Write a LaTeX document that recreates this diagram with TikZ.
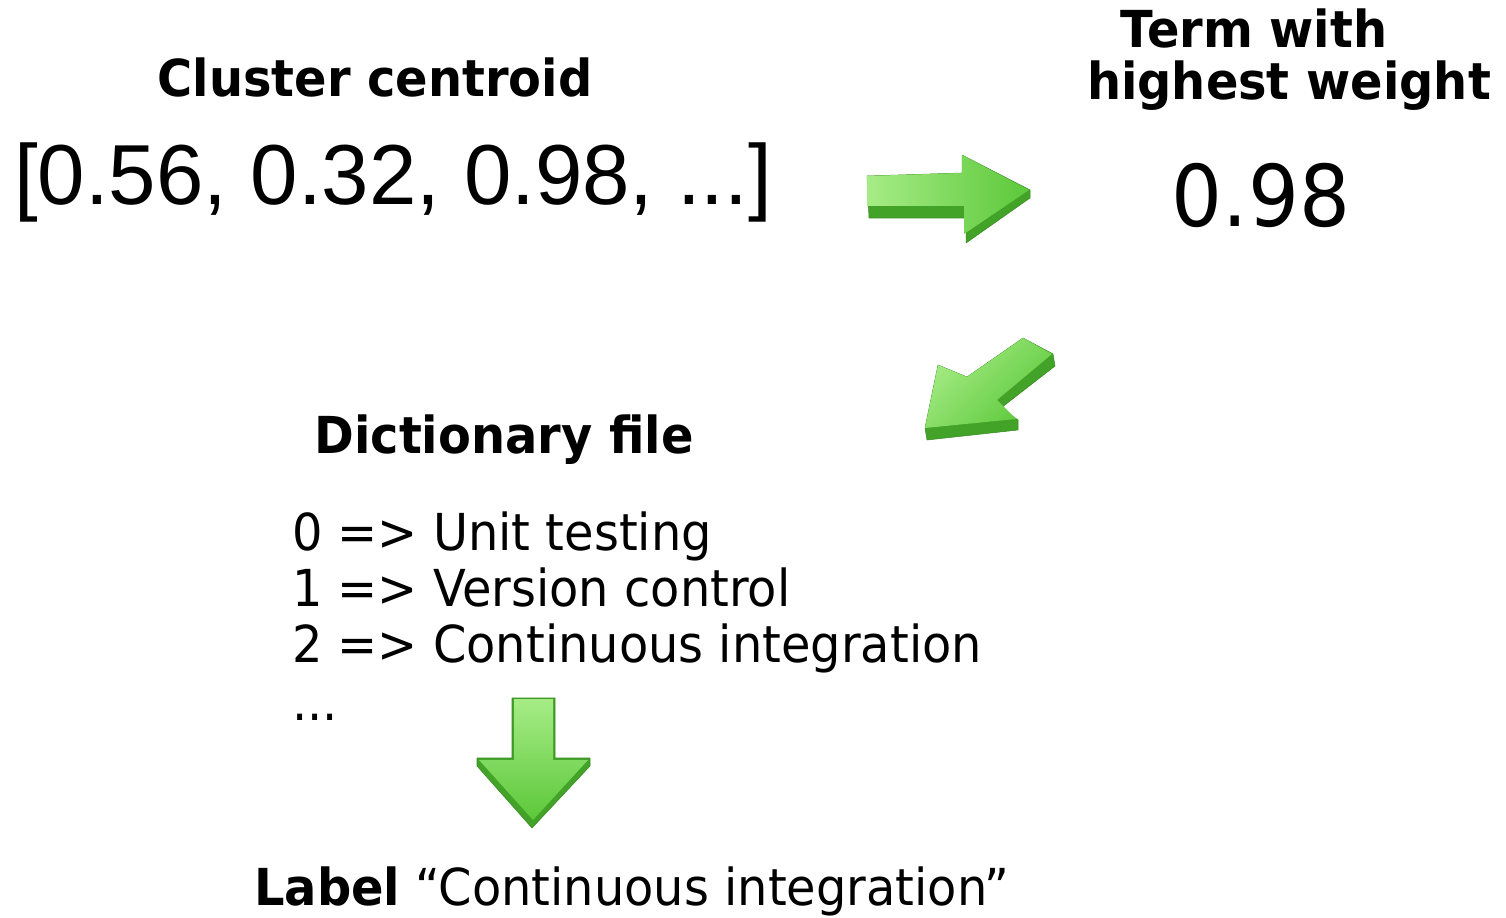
\documentclass[tikz,border=0pt]{standalone}
\usepackage{fontspec}
\setmainfont{DejaVu Sans}[FakeStretch=0.94]
\newfontfamily\arialf{Liberation Sans}
\begin{document}
\begin{tikzpicture}[x=0.02cm,y=-0.02cm,
  txt/.style={inner sep=0pt,outer sep=0pt,font=\fontsize{29}{32}\selectfont},
  head/.style={txt,font=\fontsize{29}{32}\selectfont\bfseries},
  big/.style={inner sep=0pt,outer sep=0pt,font=\fontsize{48.5}{52}\selectfont},
  darkface/.style={fill=arrowdark,draw=arrowdark!85!black,line width=0.3pt,line join=round},
  lightface/.style={line join=round}
]
\definecolor{arrowdark}{HTML}{43A328}
\definecolor{arrowmid}{HTML}{5CC83A}
\definecolor{arrowlight}{HTML}{A6EC86}
\useasboundingbox (0,0) rectangle (1506,918);

% texts
\node[head,anchor=base] (cc) at (375,97) {Cluster centroid};
\node[big,anchor=base,font=\arialf\fontsize{48.5}{52}\selectfont] (vec) at (393,205) {[0.56, 0.32, 0.98, ...]};
\node[head,anchor=base] (t1) at (1254,48) {Term with};
\node[head,anchor=base] (t2) at (1289,100) {highest weight};
\node[big,anchor=base] (w) at (1261,227) {0.98};
\node[head,anchor=base] (dict) at (504,453) {Dictionary file};
\node[txt,anchor=base west] (l0) at (292,550) {0 => Unit testing};
\node[txt,anchor=base west] (l1) at (292,606) {1 => Version control};
\node[txt,anchor=base west] (l2) at (292,662) {2 => Continuous integration};
\node[txt,anchor=base west] (l3) at (292,720) {...};
\node[txt,anchor=base] (lab) at (632,905) {\textbf{Label} “Continuous integration”};

% right arrow
\draw[darkface] (867,176) -- (962,173) -- (962,155) -- (1030,190) -- (1030,198) -- (966,243) -- (966,218) -- (869,218) -- cycle;
\shade[lightface,left color=arrowlight,right color=arrowmid] (867,176) -- (962,173) -- (962,155) -- (1029,190) -- (964,234) -- (964,206) -- (867,206) -- cycle;

% diagonal arrow
\draw[darkface] (1023,338) -- (1053,354) -- (1055,366) -- (1001,408) -- (1018,420) -- (1018,430) -- (927,440) -- (925,428) -- (938,365) -- (967,377) -- cycle;
\shade[lightface,left color=arrowlight,right color=arrowmid,shading angle=45] (1023,338) -- (1052,354) -- (997,400) -- (1016,419) -- (925,428) -- (938,365) -- (967,377) -- cycle;

% down arrow
\draw[darkface] (512,698) -- (555,698) -- (555,758) -- (590,758) -- (590,766) -- (532,828) -- (477,766) -- (477,758) -- (512,758) -- cycle;
\shade[lightface,top color=arrowlight,bottom color=arrowmid] (514,699) -- (553,699) -- (553,760) -- (588,760) -- (533,820) -- (479,760) -- (514,760) -- cycle;
\end{tikzpicture}
\end{document}
